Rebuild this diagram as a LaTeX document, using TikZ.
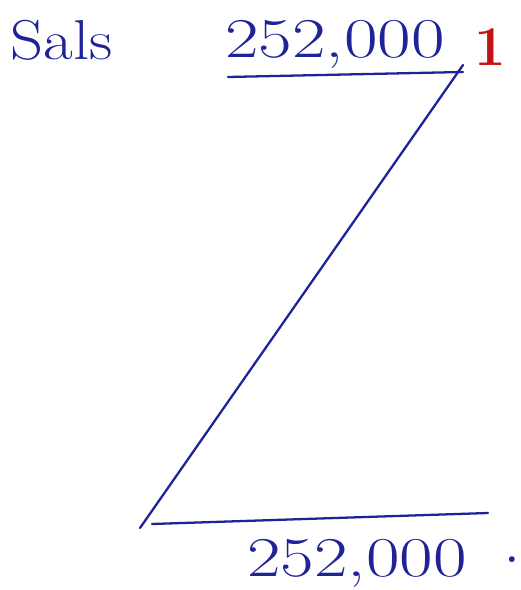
\documentclass[tikz,border=0pt]{standalone}
\usepackage{tikz}
\usetikzlibrary{positioning,calc}
\definecolor{PEN-BLUE}{RGB}{30, 35, 150}
\definecolor{PEN-RED}{RGB}{195, 20, 20}

\tikzset{
  hand/.style={font=\fontsize{32}{32}\selectfont, PEN-BLUE, inner sep=0pt},
  penline/.style={PEN-BLUE, line width=1.3pt, line cap=round}
}

\begin{document}
\begin{tikzpicture}[x=0.02cm, y=-0.02cm]
  \useasboundingbox (0,0) rectangle (520,590);

  % Labels
  \node[hand, xscale=1.15] (sals) at (62,40) {Sals};
  \node[hand, xscale=1.3] (topval) at (335,44) {252,000};
  \node[hand, PEN-RED, font=\fontsize{32}{32}\selectfont\bfseries] (one) at (490,47) {1};
  \node[hand, xscale=1.3] (botval) at (357,563) {252,000};
  \node[hand, font=\fontsize{40}{40}\selectfont] (dot) at (512,560) {.};

  % Line ends
  \coordinate (topL) at (228,77);
  \coordinate (topR) at (463,72);
  \coordinate (diagT) at (463,65);
  \coordinate (diagB) at (140,528);
  \coordinate (botL) at (152,524);
  \coordinate (botR) at (488,513);

  % Lines
  \draw[penline] (topL) -- (topR);
  \draw[penline] (diagT) -- (diagB);
  \draw[penline] (botL) -- (botR);
\end{tikzpicture}
\end{document}
